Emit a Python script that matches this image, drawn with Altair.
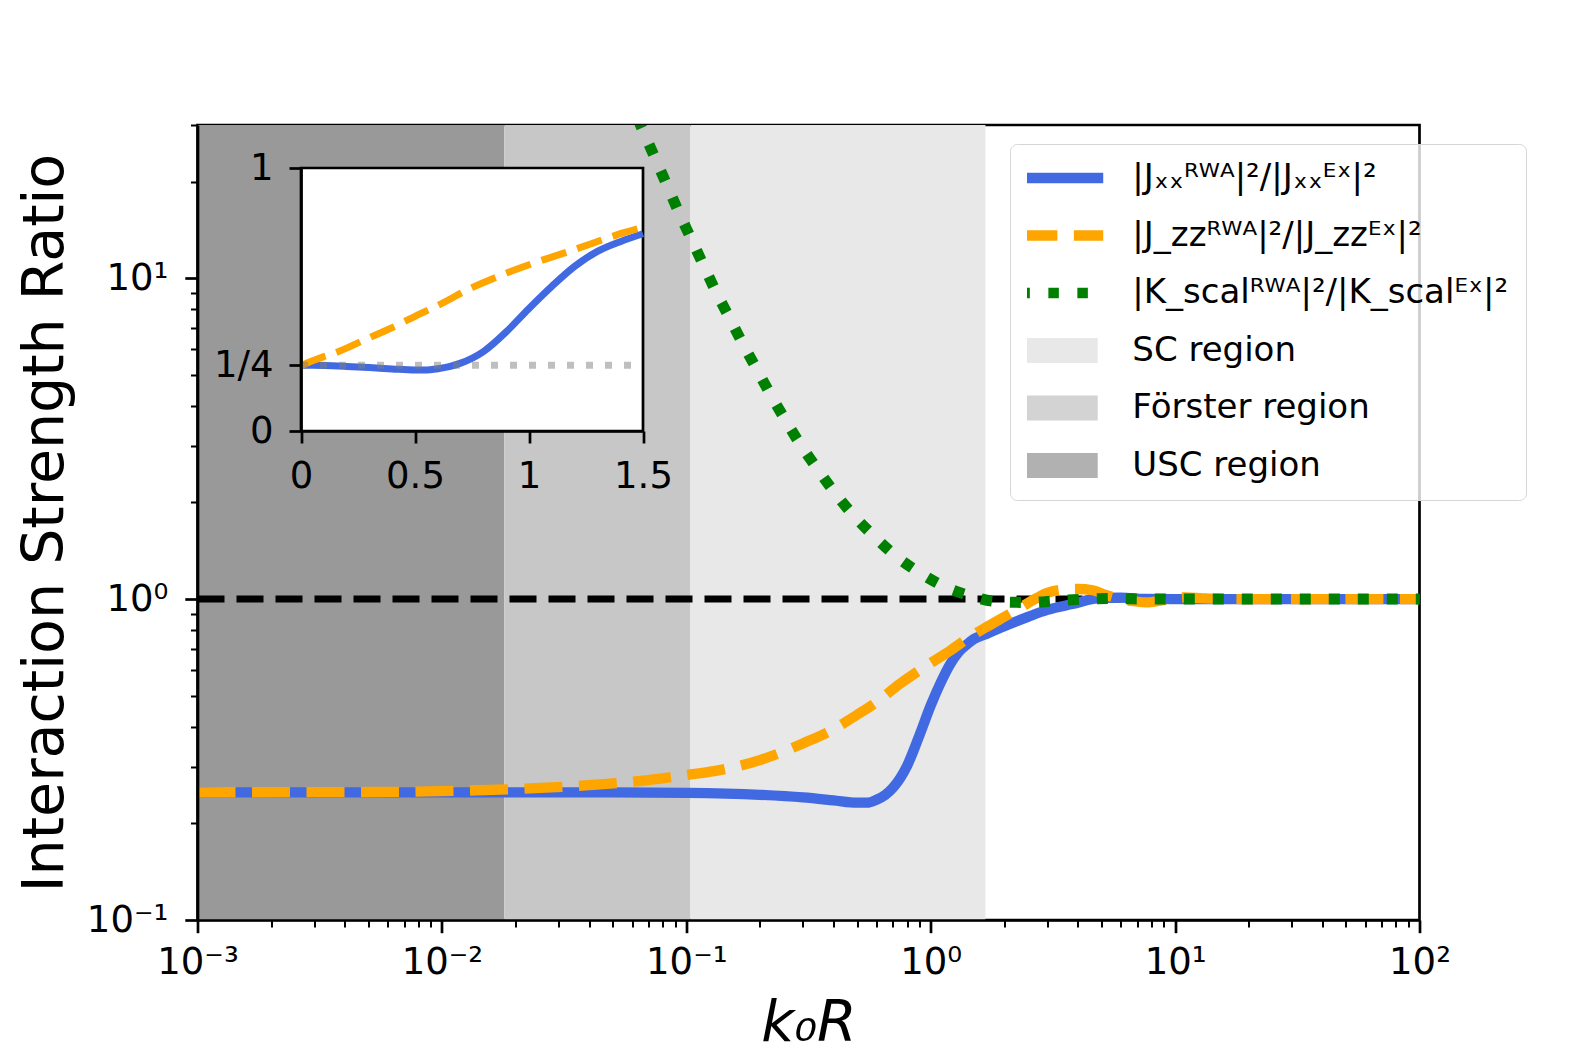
import json
import altair as alt
import pandas as pd

FONT = "DejaVu Sans"

# ---------------- data ----------------
k_blue = [0.001, 0.01, 0.05, 0.1, 0.2, 0.3, 0.4, 0.5, 0.55, 0.6, 0.65, 0.7, 0.8, 0.9, 1.0,
          1.1, 1.2, 1.3, 1.4, 1.5, 1.7, 2.0, 2.5, 3.0, 3.8, 5.0, 6.0, 7.5, 10.0, 100.0]
v_blue = [0.25, 0.25, 0.2498, 0.249, 0.2455, 0.241, 0.236, 0.232, 0.232, 0.237, 0.245, 0.258, 0.302, 0.377, 0.466,
          0.55, 0.626, 0.683, 0.72, 0.75, 0.78, 0.823, 0.88, 0.925, 0.965, 1.008, 1.01, 1.001, 0.999, 1.0]

k_orange = [0.001, 0.005, 0.01, 0.02, 0.04, 0.07, 0.1, 0.13, 0.2, 0.25, 0.3, 0.4, 0.5, 0.6, 0.75, 0.9, 1.0,
            1.2, 1.42, 1.5, 1.7, 2.0, 2.3, 2.7, 3.0, 3.5, 4.0, 4.6, 5.2, 6.0, 6.8, 7.7, 9.0, 11.0, 13.0, 16.0, 100.0]
v_orange = [0.25, 0.2505, 0.252, 0.256, 0.263, 0.273, 0.283, 0.291, 0.315, 0.335, 0.355, 0.393, 0.436, 0.477, 0.545,
            0.600, 0.632, 0.69, 0.755, 0.775, 0.82, 0.88, 0.935, 1.005, 1.045, 1.07, 1.075, 1.065, 1.03, 1.0, 0.985,
            0.976, 0.993, 1.012, 1.005, 1.0, 1.0]

k_green = [0.05, 0.06, 0.067, 0.075, 0.0838, 0.0933, 0.105, 0.1177, 0.132, 0.15, 0.17, 0.194, 0.221, 0.254, 0.293,
           0.343, 0.404, 0.481, 0.581, 0.713, 0.887, 1.12, 1.45, 1.9, 2.5, 3.29, 4.3, 5.5, 8.0, 100.0]
v_green = [46.0, 34.5, 28.4, 23.4, 19.3, 16.0, 13.2, 10.95, 9.09, 7.54, 6.26, 5.21, 4.34, 3.62, 3.03,
           2.55, 2.15, 1.83, 1.58, 1.37, 1.217, 1.10, 1.024, 0.981, 0.976, 0.988, 1.0, 1.004, 1.0, 1.0]

series_names = ["|Jₓₓᴿᵂᴬ|²/|Jₓₓᴱˣ|²", "|J_zzᴿᵂᴬ|²/|J_zzᴱˣ|²", "|K_scalᴿᵂᴬ|²/|K_scalᴱˣ|²",
                "SC region", "Förster region", "USC region"]

region_names = ["USC region", "Förster region", "SC region"]
region_start = [0.001, 0.018, 0.104]
region_end = [0.018, 0.104, 1.675]

x_domain = [0.001, 100.0]
y_domain = [0.1, 30.0]
x_decades = [0.001, 0.01, 0.1, 1.0, 10.0, 100.0]
x_decade_labels = ["10⁻³", "10⁻²", "10⁻¹", "10⁰", "10¹", "10²"]
y_decades = [0.1, 1.0, 10.0]
y_decade_labels = ["10⁻¹", "10⁰", "10¹"]
y_extra_minor = [20.0, 30.0]
unity = 1.0

inset_x_domain = [0.0, 1.5]
inset_y_domain = [0.0, 1.0]
inset_x_ticks = [0.0, 0.5, 1.0, 1.5]
inset_x_labels = ["0", "0.5", "1", "1.5"]
inset_y_ticks = [0.0, 0.25, 1.0]
inset_y_labels = ["0", "1/4", "1"]
inset_ref = 0.25

# ---------------- styles ----------------
C_BLUE, C_ORANGE, C_GREEN = "#4169e1", "#ffa500", "#008000"
region_colors = ["#999999", "#c7c7c7", "#e8e8e8"]
legend_region_colors = ["#e8e8e8", "#d3d3d3", "#b1b1b1"]
DASH_ORANGE = [38, 16.5]
DOT_GREEN = [11, 18]
DASH_BLACK = [27, 12]

W, H = 1222, 795
INSET_X_RANGE = [103.5, 445.5]
INSET_Y_RANGE = [306, 43]

LINE_PATH = "M-3.57,0H3.57"
RECT_PATH = "M-3.1,-1.06H3.1V1.06H-3.1Z"

# ---------------- frames ----------------
df_blue = pd.DataFrame({"k": k_blue, "v": v_blue})
df_orange = pd.DataFrame({"k": k_orange, "v": v_orange})
df_green = pd.DataFrame({"k": k_green, "v": v_green})
df_regions = pd.DataFrame({"start": region_start, "end": region_end, "name": region_names,
                           "ylo": y_domain[0], "yhi": y_domain[1]})
df_unity = pd.DataFrame({"k": x_domain, "v": [unity, unity]})
df_inset_box = pd.DataFrame({"x0": [inset_x_domain[0]], "x1": [inset_x_domain[1]],
                             "y0": [inset_y_domain[0]], "y1": [inset_y_domain[1]]})
df_inset_ref = pd.DataFrame({"k": inset_x_domain, "v": [inset_ref, inset_ref]})


def label_expr(vals, labels):
    parts = " : ".join(f"datum.value == {v} ? '{l}'" for v, l in zip(vals, labels))
    return parts + " : ''"


x_tick_vals = [m * d for d in x_decades[:-1] for m in range(1, 10)] + [x_decades[-1]]
y_tick_vals = [m * d for d in y_decades[:-1] for m in range(1, 10)] + [y_decades[-1]] + y_extra_minor

test_x = f"indexof({json.dumps(x_decades)}, datum.value) >= 0"
test_y = f"indexof({json.dumps(y_decades)}, datum.value) >= 0"

common_axis = dict(tickColor="black", domainColor="black", domainWidth=2.7, labelFont=FONT,
                   labelFontSize=37, labelColor="black", labelFlush=False, labelOverlap=False,
                   grid=False, zindex=1)

main_x_axis = alt.Axis(
    values=x_tick_vals, labelExpr=label_expr(x_decades, x_decade_labels),
    tickSize={"condition": {"test": test_x, "value": 12.7}, "value": 7},
    tickWidth={"condition": {"test": test_x, "value": 2.7}, "value": 2},
    labelBaseline="alphabetic", labelPadding=41,
    title="k₀R", titleFont=FONT, titleFontSize=57, titleFontStyle="italic",
    titleFontWeight="normal", titleColor="black", titleBaseline="alphabetic", titleY=120,
    **common_axis)

main_y_axis = alt.Axis(
    values=y_tick_vals, labelExpr=label_expr(y_decades, y_decade_labels),
    tickSize={"condition": {"test": test_y, "value": 12.7}, "value": 7},
    tickWidth={"condition": {"test": test_y, "value": 2.7}, "value": 2},
    labelPadding=17,
    title="Interaction Strength Ratio", titleFont=FONT, titleFontSize=57, titleFontWeight="normal",
    titleColor="black", titleAngle=270, titleBaseline="alphabetic", titleAlign="center",
    titleX=-135.5, titleY=H / 2,
    **common_axis)

xs = alt.Scale(type="log", domain=x_domain, nice=False)
ys = alt.Scale(type="log", domain=y_domain, nice=False)

X = alt.X("k:Q", scale=xs, axis=main_x_axis)
Y = alt.Y("v:Q", scale=ys, axis=main_y_axis)

regions = alt.Chart(df_regions).mark_rect().encode(
    x=alt.X("start:Q", scale=xs, axis=main_x_axis), x2="end:Q",
    y=alt.Y("ylo:Q", scale=ys, axis=main_y_axis), y2="yhi:Q",
    color=alt.Color("name:N", scale=alt.Scale(domain=region_names, range=region_colors), legend=None),
)

unity_line = alt.Chart(df_unity).mark_line(color="black", strokeWidth=7, strokeDash=DASH_BLACK).encode(x=X, y=Y)

line_kw = dict(clip=True, interpolate="monotone", strokeJoin="round")
blue = alt.Chart(df_blue).mark_line(color=C_BLUE, strokeWidth=10.3, **line_kw).encode(x=X, y=Y)
orange = alt.Chart(df_orange).mark_line(color=C_ORANGE, strokeWidth=10.3, strokeDash=DASH_ORANGE,
                                        **line_kw).encode(x=X, y=Y)
green = alt.Chart(df_green).mark_line(color=C_GREEN, strokeWidth=11, strokeDash=DOT_GREEN,
                                      **line_kw).encode(x=X, y=Y)

# legend (drawn by Vega-Lite from an empty point layer with explicit scale domains)
leg = alt.Legend(orient="none", legendX=812.5, legendY=19, title=None, padding=17, rowPadding=23.5,
                 clipHeight=34, symbolOffset=17.3, labelOffset=54, labelLimit=800, labelFont=FONT,
                 labelFontSize=34, labelColor="black", symbolSize=552, symbolStrokeWidth=10.5,
                 symbolOpacity=1, strokeColor="#d6d6d6", fillColor="rgba(255,255,255,0.8)", cornerRadius=7)
legend_shapes = [LINE_PATH] * 3 + [RECT_PATH] * 3
legend_fills = ["transparent"] * 3 + legend_region_colors
legend_strokes = [C_BLUE, C_ORANGE, C_GREEN] + ["transparent"] * 3
legend_dashes = [[1, 0], DASH_ORANGE, [10.5, 18.5], [1, 0], [1, 0], [1, 0]]

legend_layer = alt.Chart(alt.InlineData(values=[])).mark_point(filled=True, opacity=1, strokeWidth=10.5).encode(
    shape=alt.Shape("series:N", scale=alt.Scale(domain=series_names, range=legend_shapes), legend=leg),
    fill=alt.Fill("series:N", scale=alt.Scale(domain=series_names, range=legend_fills), legend=leg),
    stroke=alt.Stroke("series:N", scale=alt.Scale(domain=series_names, range=legend_strokes), legend=leg),
    strokeDash=alt.StrokeDash("series:N", scale=alt.Scale(domain=series_names, range=legend_dashes), legend=leg),
)

main = alt.layer(regions, unity_line, blue, orange, green, legend_layer)

# ---------------- inset ----------------
inset_common = dict(tickColor="black", domainColor="black", domainWidth=2.7, tickWidth=2.7, tickSize=12,
                    labelFont=FONT, labelFontSize=37, labelColor="black", labelFlush=False,
                    labelOverlap=False, grid=False, title=None, zindex=2)
inset_x_axis = alt.Axis(values=inset_x_ticks, labelExpr=label_expr(inset_x_ticks, inset_x_labels),
                        orient="bottom", offset=-(H - INSET_Y_RANGE[0]), labelBaseline="alphabetic",
                        labelPadding=44, **inset_common)
inset_y_axis = alt.Axis(values=inset_y_ticks, labelExpr=label_expr(inset_y_ticks, inset_y_labels),
                        orient="left", offset=-INSET_X_RANGE[0], labelPadding=16, **inset_common)

ixs = alt.Scale(domain=inset_x_domain, range=INSET_X_RANGE, nice=False, zero=False)
iys = alt.Scale(domain=inset_y_domain, range=INSET_Y_RANGE, nice=False, zero=False)
IX = alt.X("k:Q", scale=ixs, axis=inset_x_axis)
IY = alt.Y("v:Q", scale=iys, axis=inset_y_axis)

inset_box = alt.Chart(df_inset_box).mark_rect(fill="white", stroke="black", strokeWidth=2.7).encode(
    x=alt.X("x0:Q", scale=ixs, axis=inset_x_axis), x2="x1:Q",
    y=alt.Y("y0:Q", scale=iys, axis=inset_y_axis), y2="y1:Q")
in_filter = f"datum.k <= {inset_x_domain[1]}"
inset_blue = alt.Chart(df_blue).transform_filter(in_filter).mark_line(
    color=C_BLUE, strokeWidth=7, interpolate="monotone", strokeJoin="round").encode(x=IX, y=IY)
inset_orange = alt.Chart(df_orange).transform_filter(in_filter).mark_line(
    color=C_ORANGE, strokeWidth=7, strokeDash=[26, 11.5], interpolate="monotone").encode(x=IX, y=IY)
inset_ref_line = alt.Chart(df_inset_ref).mark_line(
    color="#808080", opacity=0.5, strokeWidth=7, strokeDash=[7, 12]).encode(x=IX, y=IY)

inset = alt.layer(inset_box, inset_blue, inset_orange, inset_ref_line)

chart = alt.layer(main, inset).resolve_scale(x="independent", y="independent").properties(
    width=W, height=H,
    padding={"left": 189.5, "top": 117, "right": 140, "bottom": 132},
    autosize=alt.AutoSizeParams(type="none"),
    background="white",
).configure_view(stroke="black", strokeWidth=2.7)

chart.save("out.html", embed_options={"renderer": "svg", "actions": False})
